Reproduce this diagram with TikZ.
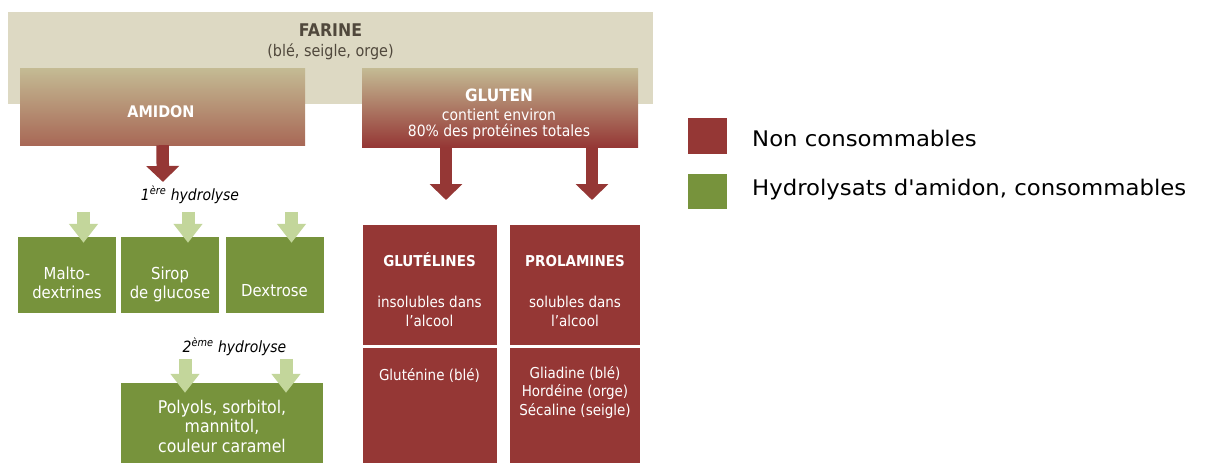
\documentclass[tikz,border=0pt]{standalone}
\usepackage{fontspec}
\setmainfont{DejaVu Sans}[FakeStretch=0.9]
\newfontfamily\legfont{DejaVu Sans}[FakeStretch=1.06]
\usetikzlibrary{arrows.meta,positioning}
\definecolor{beige}{RGB}{221,217,195}
\definecolor{tan}{RGB}{196,187,148}
\definecolor{brique}{RGB}{168,104,86}
\definecolor{rouge}{RGB}{149,55,53}
\definecolor{vert}{RGB}{119,147,60}
\definecolor{vertclair}{RGB}{195,214,155}
\definecolor{gristexte}{RGB}{80,72,60}
\tikzset{
    degrade/.style={top color=tan, bottom color=#1, inner sep=0pt},
    boitevert/.style={fill=vert, inner sep=0pt, minimum width=98pt, minimum height=76pt},
    boiterouge/.style={fill=rouge, inner sep=0pt},
    ligne/.style={anchor=base, inner sep=0pt, text=white, font=\fontsize{15}{18}\selectfont},
    titre/.style={ligne, font=\bfseries\fontsize{15}{18}\selectfont},
    txtvert/.style={ligne, font=\fontsize{16.5}{18}\selectfont},
    hydro/.style={anchor=base, inner sep=0pt, font=\itshape\fontsize{15.5}{18}\selectfont},
    flecherouge/.style={draw=rouge, line width=12.5pt, -{Triangle[width=32pt,length=16pt]}},
    flecheverte/.style={draw=vertclair, line width=13pt, -{Triangle[width=28pt,length=19pt]}},
    legende/.style={anchor=base west, inner sep=0pt, font=\legfont\fontsize{21.5}{24}\selectfont}
}
\begin{document}
\begin{tikzpicture}[x=1pt,y=-1pt]
    \useasboundingbox (0,0) rectangle (1207,463);

    %%%%%%%%%% Nodi %%%%%%%%%%
    \node[fill=beige, minimum width=645pt, minimum height=92pt] (farine) at (330.5,58) {};
    \node[titre, text=gristexte, font=\bfseries\fontsize{17.5}{18}\selectfont] (farinetxt) at (330.5,36.7) {FARINE};
    \node[ligne, text=gristexte, font=\fontsize{16}{18}\selectfont] (cereales) at (330.5,56) {(blé, seigle, orge)};

    \node[degrade=brique, minimum width=285pt, minimum height=77pt] (amidon) at (162.5,106.5) {};
    \node[titre, font=\bfseries\fontsize{16}{18}\selectfont] (amidontxt) at (161,117.3) {AMIDON};
    \node[degrade=rouge, minimum width=276pt, minimum height=79pt] (gluten) at (500,107.5) {};
    \node[titre, font=\bfseries\fontsize{17}{18}\selectfont] (glutentxt) at (499,101.7) {GLUTEN};
    \node[ligne, font=\fontsize{15.5}{18}\selectfont] (contient) at (499,120) {contient environ};
    \node[ligne, font=\fontsize{15.5}{18}\selectfont] (proteines) at (499,136.7) {80\% des protéines totales};

    \node[boitevert] (malto) at (67,275) {};
    \node[boitevert] (sirop) at (170,275) {};
    \node[boitevert] (dextrose) at (274.5,275) {};
    \node[boitevert, minimum width=202pt, minimum height=80pt] (polyols) at (222,423) {};
    \node[txtvert] at (67,279) {Malto-};
    \node[txtvert] at (67,298) {dextrines};
    \node[txtvert] at (170,279) {Sirop};
    \node[txtvert] at (170,298) {de glucose};
    \node[txtvert] at (274.5,296) {Dextrose};
    \node[txtvert, font=\fontsize{17.5}{18}\selectfont] at (222,413) {Polyols, sorbitol,};
    \node[txtvert, font=\fontsize{17.5}{18}\selectfont] at (222,432.5) {mannitol,};
    \node[txtvert, font=\fontsize{17.5}{18}\selectfont] at (222,452) {couleur caramel};

    \node[hydro] (hydro1) at (190,200) {1\textsuperscript{ère} hydrolyse};
    \node[hydro] (hydro2) at (234.5,352) {2\textsuperscript{ème} hydrolyse};

    \node[boiterouge, minimum width=134pt, minimum height=120pt] (glutelines) at (429.5,285) {};
    \node[boiterouge, minimum width=134pt, minimum height=115pt] (glutenine) at (429.5,405.5) {};
    \node[boiterouge, minimum width=130pt, minimum height=120pt] (prolamines) at (575,285) {};
    \node[boiterouge, minimum width=130pt, minimum height=115pt] (gliadine) at (575,405.5) {};

    \node[titre] at (429.5,266.7) {GLUTÉLINES};
    \node[ligne] at (429.5,307) {insolubles dans};
    \node[ligne] at (429.5,326.7) {l’alcool};
    \node[ligne] at (429.5,380) {Gluténine (blé)};
    \node[titre] at (575,266.7) {PROLAMINES};
    \node[ligne] at (575,307) {solubles dans};
    \node[ligne] at (575,326.7) {l’alcool};
    \node[ligne] at (575,378) {Gliadine (blé)};
    \node[ligne] at (575,396.5) {Hordéine (orge)};
    \node[ligne] at (575,415) {Sécaline (seigle)};

    %%%%%%%%% Legenda %%%%%%%%%
    \node[fill=rouge, minimum width=39pt, minimum height=36pt, inner sep=0pt] (legrouge) at (707.5,136) {};
    \node[fill=vert, minimum width=39pt, minimum height=35pt, inner sep=0pt] (legvert) at (707.5,191.5) {};
    \node[legende] at (752,146) {Non consommables};
    \node[legende] at (752,195) {Hydrolysats d'amidon, consommables};

    %%%%%%%%% Frecce %%%%%%%%%
    \coordinate (h1) at (163,182);
    \draw[flecherouge] (amidon.south) -- (h1);
    \draw[flecheverte] ([xshift=16.5pt,yshift=25pt]malto.north) -- ([xshift=16.5pt,yshift=-6pt]malto.north);
    \draw[flecheverte] ([xshift=18pt,yshift=25pt]sirop.north) -- ([xshift=18pt,yshift=-6pt]sirop.north);
    \draw[flecheverte] ([xshift=17pt,yshift=25pt]dextrose.north) -- ([xshift=17pt,yshift=-6pt]dextrose.north);
    \draw[flecheverte] ([xshift=-37pt,yshift=24pt]polyols.north) -- ([xshift=-37pt,yshift=-10pt]polyols.north);
    \draw[flecheverte] ([xshift=64pt,yshift=24pt]polyols.north) -- ([xshift=64pt,yshift=-10pt]polyols.north);
    \coordinate (g1) at (446,200);
    \coordinate (g2) at (592,200);
    \draw[flecherouge] ([xshift=-54pt]gluten.south) -- (g1);
    \draw[flecherouge] ([xshift=92pt]gluten.south) -- (g2);
\end{tikzpicture}
\end{document}
